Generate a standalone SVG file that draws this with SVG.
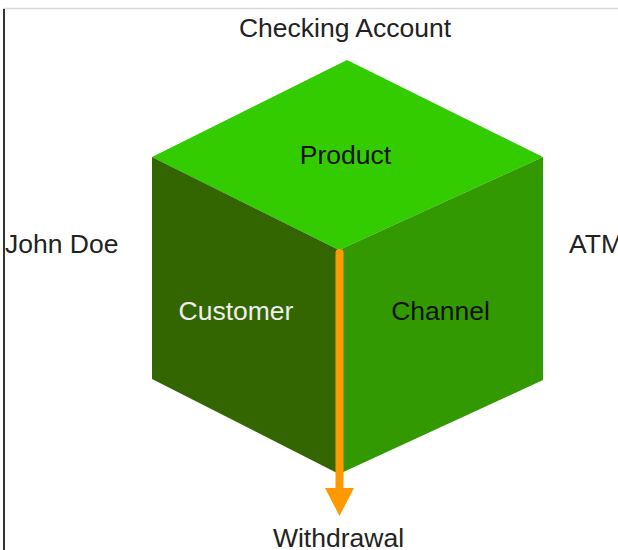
<svg xmlns="http://www.w3.org/2000/svg" width="618" height="550" viewBox="0 0 618 550">
<style>
text{font-family:"Liberation Sans",Arial,sans-serif;font-size:26.5px;fill:#222;}
.mid{text-anchor:middle;}
</style>
<rect width="618" height="550" fill="#fff"/>
<line x1="3" y1="8.5" x2="618" y2="8.5" stroke="#d9d9d9" stroke-width="1.5"/>
<line x1="4" y1="9" x2="4" y2="550" stroke="#000" stroke-width="1.6"/>
<g id="cube">
<polygon id="top" points="347,60 543,157 339,250 152,157" fill="#33cc00"/>
<polygon id="left" points="152,157 339,250 339,474 152,379" fill="#336600"/>
<polygon id="right" points="339,250 543,157 543,380 339,474" fill="#339900"/>
</g>
<g id="product"><text class="mid" x="345.5" y="164" style="fill:#111">Product</text></g>
<g id="customer"><text class="mid" x="236" y="320" style="fill:#eee">Customer</text></g>
<g id="channel"><text class="mid" x="440.5" y="320" style="fill:#111">Channel</text></g>
<g id="checking"><text class="mid" x="345" y="37">Checking Account</text></g>
<g id="johndoe"><text x="5" y="253">John Doe</text></g>
<g id="atm"><text x="569" y="253">ATM</text></g>
<g id="withdrawal"><text class="mid" x="338.5" y="547">Withdrawal</text></g>
<g id="connectors">
<line x1="339.5" y1="253" x2="339.5" y2="492" stroke="#ff9900" stroke-width="8" stroke-linecap="round"/>
<polygon points="325,488 354,488 339.5,516" fill="#ff9900"/>
</g>
</svg>
